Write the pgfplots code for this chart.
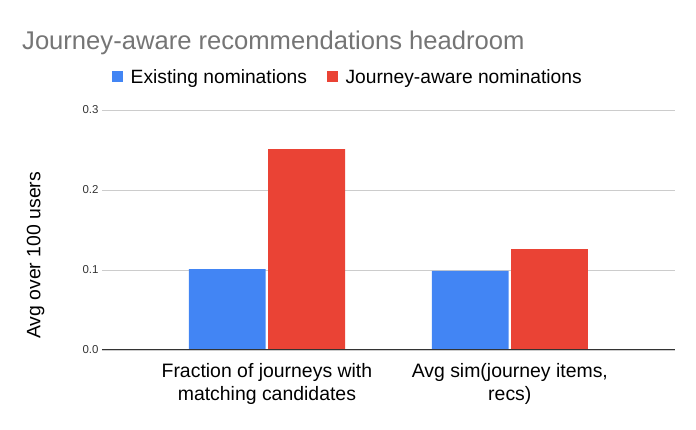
\documentclass[border=0pt]{standalone}
\usepackage{fontspec}
\setmainfont{Liberation Sans}
\usepackage{pgfplots}
\pgfplotsset{compat=1.18}
\definecolor{gblue}{HTML}{4285F4}
\definecolor{gred}{HTML}{EA4335}
\definecolor{titlegray}{HTML}{757575}
\definecolor{gridgray}{HTML}{CCCCCC}
\definecolor{axisdark}{HTML}{333333}
\begin{document}
\begin{tikzpicture}
\path[use as bounding box] (0,0) rectangle (696bp,430bp);
\node[anchor=base west, text=titlegray, inner sep=0pt,
      font=\fontsize{25.7}{30}\selectfont] at (22bp,380bp)
  {Journey-aware recommendations headroom};
\begin{axis}[
    at={(102bp,80bp)}, anchor=south west,
    scale only axis,
    width=573bp, height=240bp,
    xmin=-0.679, xmax=1.68,
    ymin=0, ymax=0.3,
    xtick={0,1},
    xticklabels={{Fraction of journeys with\\matching candidates},
                 {Avg sim(journey items,\\recs)}},
    xticklabel style={align=center, font=\fontsize{19.5}{23}\selectfont,
                      text=black, yshift=-10bp},
    ytick={0,0.1,0.2,0.3},
    yticklabel style={font=\fontsize{11.5}{14}\selectfont, text=black!80},
    /pgf/number format/assume math mode=true,
    yticklabel={\pgfmathprintnumber[fixed,fixed zerofill,precision=1]{\tick}},
    major tick length=0pt,
    ymajorgrids,
    major grid style={gridgray, line width=0.8pt},
    axis line style={draw=none},
    ylabel={Avg over 100 users},
    ylabel style={at={(axis description cs:-0.116,0.394)}, anchor=center,
                  font=\fontsize{19.5}{23}\selectfont},
    legend columns=2,
    legend image code/.code={\fill[#1] (0bp,-5.5bp) rectangle (10.5bp,5.5bp);},
    legend style={draw=none, fill=none, inner sep=0pt,
                  at={(axis description cs:0.0175,1.1375)}, anchor=west,
                  font=\fontsize{19.3}{23}\selectfont,
                  nodes={inner sep=0pt},
                  /tikz/every odd column/.append style={column sep=8bp},
                  /tikz/every even column/.append style={column sep=20bp}},
]
\addplot[ybar, fill=gblue, draw=none, bar width=0.316, bar shift=-0.1634]
  coordinates {(0,0.1012) (1,0.0988)};
\addplot[ybar, fill=gred, draw=none, bar width=0.316, bar shift=0.1634]
  coordinates {(0,0.251) (1,0.126)};
\draw[axisdark, line width=1.4bp] (axis cs:-0.679,0) -- (axis cs:1.68,0);
\legend{Existing nominations, Journey-aware nominations}
\end{axis}
\end{tikzpicture}
\end{document}
